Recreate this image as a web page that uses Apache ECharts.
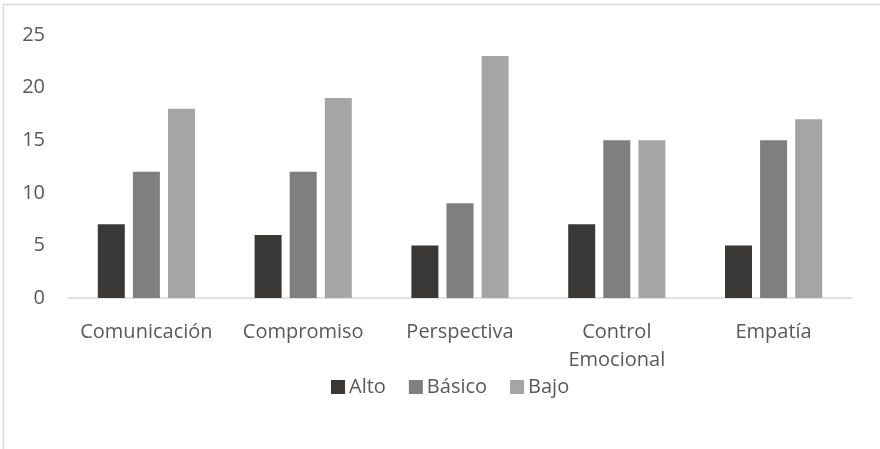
<!DOCTYPE html>
<html><head><meta charset="utf-8">
<script src="https://cdn.jsdelivr.net/npm/echarts@6/dist/echarts.min.js"></script>
<style>html,body{margin:0;padding:0;background:#fff}#c{width:880px;height:449px}</style>
</head><body><div id="c"></div>
<script>
var categories = ['Comunicación', 'Compromiso', 'Perspectiva', 'Control\nEmocional', 'Empatía'];
var seriesNames = ['Alto', 'Básico', 'Bajo'];
var alto = [7, 6, 5, 7, 5];
var basico = [12, 12, 9, 15, 15];
var bajo = [18, 19, 23, 15, 17];
var yTicks = {min: 0, max: 25, interval: 5};
var colors = ['#3a3937', '#7f7f7f', '#a5a5a5'];
var FONT = 'Open Sans';
var chart = echarts.init(document.getElementById('c'), null, {renderer: 'canvas'});
chart.setOption({
  animation: false,
  color: colors,
  graphic: [{type: 'rect', shape: {x: 3.5, y: 4.5, width: 900, height: 500}, style: {fill: 'none', stroke: '#d9d9d9', lineWidth: 1.5}, z: -1}],
  grid: {left: 68, right: 28, top: 35, bottom: 151, containLabel: false},
  legend: {
    data: seriesNames, left: 326, top: 372, itemWidth: 14, itemHeight: 14, itemGap: 23,
    icon: 'rect', textStyle: {fontFamily: FONT, fontSize: 20, color: '#595959', padding: [0, 0, 0, -1]}
  },
  xAxis: {
    type: 'category', data: categories,
    axisLine: {lineStyle: {color: '#d9d9d9', width: 1.5}},
    axisTick: {show: false},
    axisLabel: {fontFamily: FONT, fontSize: 20, color: '#595959', margin: 20, lineHeight: 28, interval: 0}
  },
  yAxis: {
    type: 'value', min: yTicks.min, max: yTicks.max, interval: yTicks.interval,
    splitLine: {show: false}, axisLine: {show: false}, axisTick: {show: false},
    axisLabel: {fontFamily: FONT, fontSize: 20, color: '#595959', margin: 23}
  },
  series: [
    {name: seriesNames[0], type: 'bar', data: alto, barWidth: 27, barGap: '30%'},
    {name: seriesNames[1], type: 'bar', data: basico, barWidth: 27, barGap: '30%'},
    {name: seriesNames[2], type: 'bar', data: bajo, barWidth: 27, barGap: '30%'}
  ]
});
</script></body></html>
